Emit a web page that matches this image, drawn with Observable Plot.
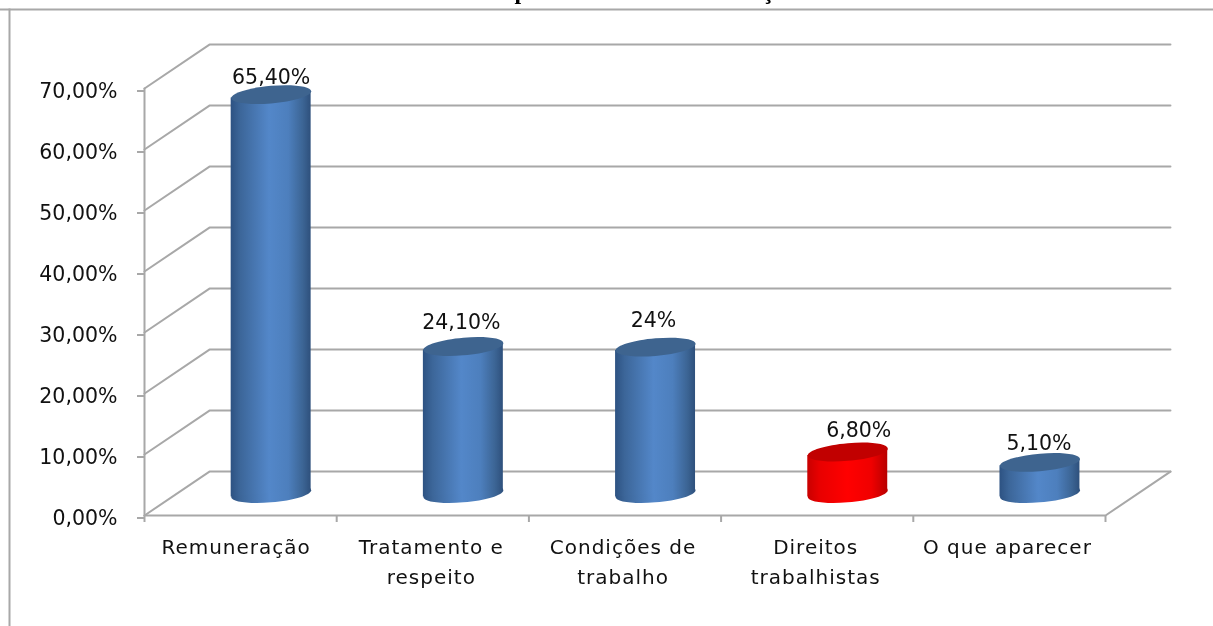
<!DOCTYPE html>
<html>
<head>
<meta charset="utf-8">
<script src="https://cdn.jsdelivr.net/npm/d3@7"></script>
<script src="https://cdn.jsdelivr.net/npm/@observablehq/plot@0.6"></script>
<style>
html,body{margin:0;padding:0;background:#fff;overflow:hidden}
svg{display:block;filter:blur(0.35px)}
.cat-label text{letter-spacing:1px}
</style>
</head>
<body>
<div id="chart"></div>
<script>
const categories = ["Remuneração", "Tratamento e\nrespeito", "Condições de\ntrabalho", "Direitos\ntrabalhistas", "O que aparecer"];
const values = [65.4, 24.1, 24, 6.8, 5.1];
const valueLabels = ["65,40%", "24,10%", "24%", "6,80%", "5,10%"];
const highlighted = ["Direitos\ntrabalhistas"];
const yTicks = [0, 10, 20, 30, 40, 50, 60, 70];
const titleFragments = ["p", "ç"];

// layout (in scale units): the 3-D box depth, and the cylinder's width and tilt
const depthX = 0.338, depthY = 7.2, barWidth = 0.416, tilt = 0.55, barShift = -0.01;
const labelNudges = [[0, -17], [-2, -24.5], [-2, -27], [11, -22], [-1, -19]];
const categoryNudges = [-4.5, -1.5, -2, -1.5, -2];
const titleNudges = [514, 762];

const bars = categories.map((category, i) => ({
  category, value: values[i], label: valueLabels[i], slot: i + 0.5,
  cx: i + 0.5 + depthX / 2 + barShift,
  top: values[i] + depthY / 2,
  base: depthY / 2,
  hot: highlighted.includes(category)
}));
const bodyRows = bars.flatMap(b => [
  {...b, x: b.cx - barWidth / 2, y1: b.base - tilt, y2: b.top - tilt},
  {...b, x: b.cx + barWidth / 2, y1: b.base + tilt, y2: b.top + tilt}
]);
const wallRows = yTicks.flatMap(v => [
  {v, x: 0, y: v}, {v, x: depthX, y: v + depthY}, {v, x: categories.length + depthX, y: v + depthY}
]);
const floorRows = [
  {x: 0, y: 70}, {x: 0, y: 0}, {x: categories.length, y: 0}, {x: categories.length + depthX, y: depthY}
];

const capSymbol = {
  draw(ctx) {
    const ax = 40, ay = -3.4, by = 8.8, k = 0.5523;
    ctx.moveTo(ax, ay);
    ctx.bezierCurveTo(ax, ay + k * by, k * ax, k * ay + by, 0, by);
    ctx.bezierCurveTo(-k * ax, -k * ay + by, -ax, -ay + k * by, -ax, -ay);
    ctx.bezierCurveTo(-ax, -ay - k * by, -k * ax, -k * ay - by, 0, -by);
    ctx.bezierCurveTo(k * ax, k * ay - by, ax, ay - k * by, ax, ay);
    ctx.closePath();
  }
};

const sideFill = {value: d => d.hot ? "url(#redSide)" : "url(#blueSide)", scale: null};
const capFill = {value: d => d.hot ? "#c10000" : "#3e648f", scale: null};
const grey = "#a8a8a8";
const txt = {fontFamily: "'DejaVu Sans', sans-serif", fill: "#111"};

const plot = Plot.plot({
  width: 1213, height: 626,
  marginTop: 0, marginRight: 0, marginBottom: 0, marginLeft: 0,
  style: {background: "#fff", overflow: "hidden"},
  x: {domain: [0, categories.length], range: [144, 1105]},
  y: {domain: [0, 70], range: [515, 88]},
  marks: [
    Plot.frame({anchor: "top", dy: 9, stroke: grey, strokeWidth: 2}),
    Plot.frame({anchor: "left", dx: 9, insetTop: 9, stroke: grey, strokeWidth: 2}),
    titleFragments.map((t, i) => Plot.text([t], {
      text: d => d, frameAnchor: "top-left", dx: titleNudges[i], dy: -19, lineAnchor: "top",
      fontFamily: "'Liberation Serif', serif", fontSize: 24, fontWeight: "bold", fill: "#000"
    })),
    Plot.line(wallRows, {x: "x", y: "y", z: "v", stroke: grey, strokeWidth: 2, curve: "linear"}),
    Plot.line(floorRows, {x: "x", y: "y", stroke: grey, strokeWidth: 2, curve: "linear"}),
    Plot.axisY({
      anchor: "left", ticks: yTicks, tickSize: 7, tickPadding: 20,
      tickFormat: v => v.toFixed(2).replace(".", ",") + "%",
      stroke: grey, strokeWidth: 2, fontSize: 20.5, label: null, dy: 2.5, ...txt,
      x: 0
    }),
    Plot.axisX({
      anchor: "bottom", ticks: d3.range(categories.length + 1), tickSize: 7,
      tickFormat: () => "", stroke: grey, strokeWidth: 2, label: null,
      y: 0
    }),
    bars.map((b, i) => Plot.text([b], {
      x: "slot", y: 0, text: "category", dx: categoryNudges[i], dy: 17, lineAnchor: "top",
      fontSize: 20, lineHeight: 30 / 20, ...txt, className: "cat-label"
    })),
    Plot.dot(bars, {x: "cx", y: "base", symbol: capSymbol, r: 1, fill: sideFill, stroke: null}),
    Plot.areaY(bodyRows, {x: "x", y1: "y1", y2: "y2", z: "category", fill: sideFill, curve: "linear"}),
    Plot.dot(bars, {x: "cx", y: "top", symbol: capSymbol, r: 1, fill: capFill, stroke: null}),
    bars.map((b, i) => Plot.text([b], {
      x: "cx", y: "top", text: "label", dx: labelNudges[i][0], dy: labelNudges[i][1],
      fontSize: 20.5, ...txt
    }))
  ]
});

const ns = "http://www.w3.org/2000/svg";
const defs = document.createElementNS(ns, "defs");
function grad(id, stops) {
  const g = document.createElementNS(ns, "linearGradient");
  g.setAttribute("id", id);
  stops.forEach(([o, c]) => {
    const s = document.createElementNS(ns, "stop");
    s.setAttribute("offset", o);
    s.setAttribute("stop-color", c);
    g.appendChild(s);
  });
  defs.appendChild(g);
}
grad("blueSide", [[0, "#2d5282"], [0.12, "#3c6699"], [0.48, "#5387c9"], [0.72, "#4d7fbd"], [0.9, "#3c6595"], [1, "#2e507c"]]);
grad("redSide", [[0, "#c80000"], [0.15, "#e80000"], [0.5, "#ff0000"], [0.8, "#f00000"], [1, "#b80000"]]);
plot.insertBefore(defs, plot.firstChild);
document.getElementById("chart").appendChild(plot);
</script>
</body>
</html>
